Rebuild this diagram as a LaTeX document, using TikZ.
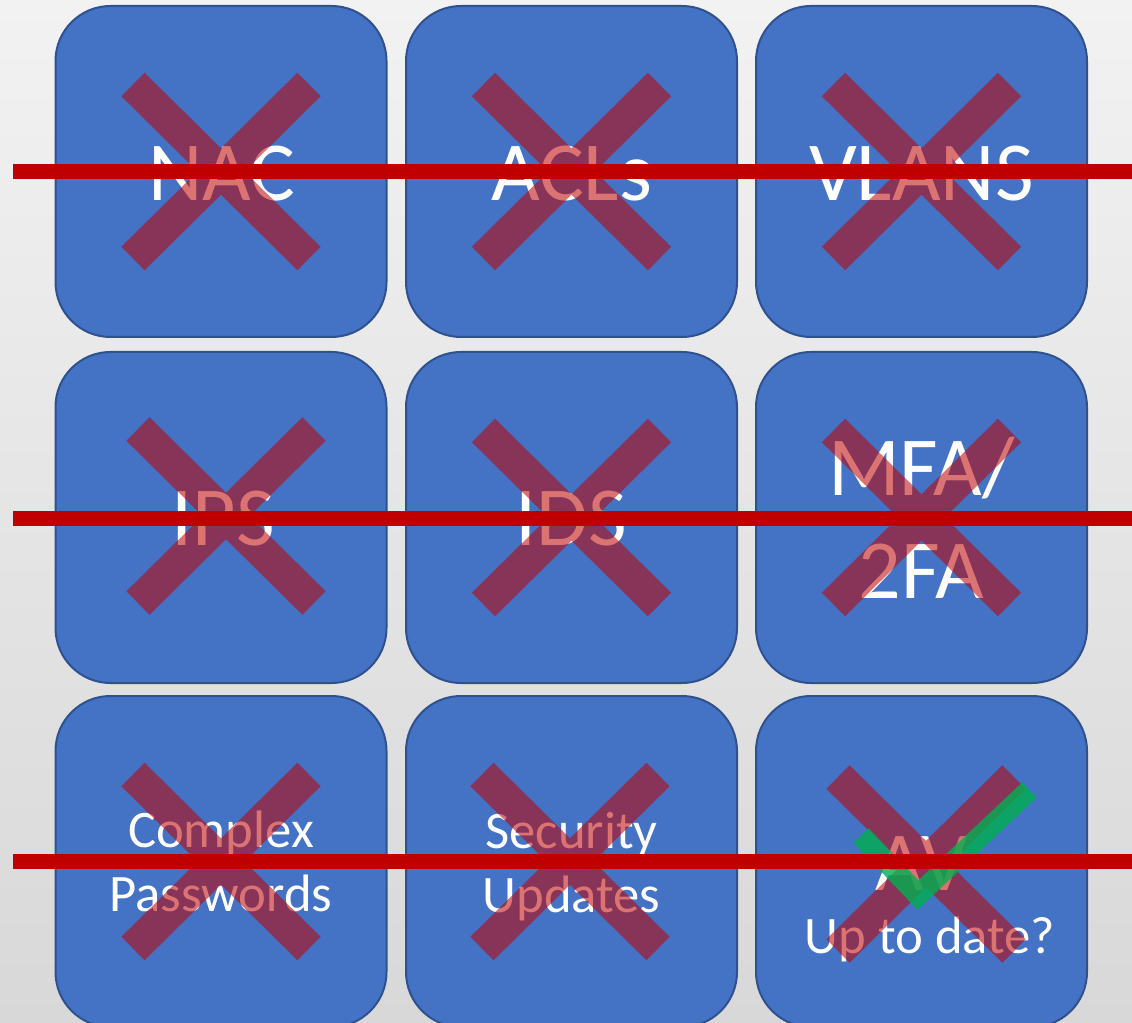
\documentclass[tikz,border=0pt]{standalone}
\usepackage{fontspec}
\setmainfont{Carlito}
\usetikzlibrary{calc}
\definecolor{boxblue}{HTML}{4472C4}
\definecolor{boxline}{HTML}{2F528F}
\definecolor{xred}{HTML}{C00000}
\definecolor{chk}{HTML}{00B050}
\definecolor{bgtop}{HTML}{F2F2F2}
\definecolor{bgbot}{HTML}{D8D8D8}
\begin{document}
\begin{tikzpicture}[x=0.75pt,y=-0.75pt,
  box/.style={draw=boxline, line width=1.5pt, fill=boxblue, rounded corners=41.25pt,
    minimum width=248.25pt, minimum height=248.25pt, inner sep=0pt},
  bigtxt/.style={text=white, font=\fontsize{63}{63}\selectfont, anchor=base, inner sep=0pt},
  smalltxt/.style={text=white, font=\fontsize{39.5}{39.5}\selectfont, anchor=base, inner sep=0pt},
  xmark/.style={draw=xred, line width=24.75pt, line cap=butt},
  strike/.style={draw=xred, line width=11.25pt},
  tick/.style={draw=chk, draw opacity=0.8, line width=15.75pt, line join=miter, line cap=butt}]
\useasboundingbox (0,0) rectangle (1132,1023);
\clip (0,0) rectangle (1132,1023);
\shade[top color=bgtop, bottom color=bgbot] (0,0) rectangle (1132,1023);
% boxes
\node[box] (b1) at (221,171.5) {};
\node[box] (b2) at (571.5,171.5) {};
\node[box] (b3) at (921.5,171.5) {};
\node[box] (b4) at (221,517.5) {};
\node[box] (b5) at (571.5,517.5) {};
\node[box] (b6) at (921.5,517.5) {};
\node[box] (b7) at (221,861.5) {};
\node[box] (b8) at (571.5,861.5) {};
\node[box] (b9) at (921.5,861.5) {};
% texts
\node[bigtxt] (t1) at (222,201) {NAC};
\node[bigtxt] (t2) at (571.5,201) {ACLs};
\node[bigtxt] (t3) at (921.5,201) {VLANS};
\node[bigtxt] (t4) at (223,546) {IPS};
\node[bigtxt] (t5) at (571.5,546) {IDS};
\node[bigtxt] (t6a) at (921.5,495) {MFA/};
\node[bigtxt] (t6b) at (921.5,598) {2FA};
\node[smalltxt] (t7a) at (221,847) {Complex};
\node[smalltxt] (t7b) at (221,911) {Passwords};
\node[smalltxt] (t8a) at (571.5,848) {Security};
\node[smalltxt] (t8b) at (571.5,912) {Updates};
\node[bigtxt] (t9a) at (921.5,890) {AV};
\node[smalltxt] (t9b) at (930,953) {Up to date?};
% crosses
\foreach \b/\dx/\dy in {b1/0/0, b2/0/0, b3/0/0, b4/5/-1.5, b5/0/0, b6/0/0, b7/0/0, b8/-1.5/0, b9/4.5/2.5}{
  \begin{scope}[transparency group, opacity=0.55]
  \draw[xmark] ($(\b)+(\dx,\dy)+(-88,-87)$) -- ($(\b)+(\dx,\dy)+(88,87)$);
  \draw[xmark] ($(\b)+(\dx,\dy)+(88,-87)$) -- ($(\b)+(\dx,\dy)+(-88,87)$);
  \end{scope}
}
% check mark
\draw[tick] ($(b9)+(-60.5,-26)$) -- ($(b9)+(-3.5,33.5)$) -- ($(b9)+(108,-71.5)$);
% strike lines
\coordinate (s1a) at (13,171.5); \coordinate (s1b) at (1140,171.5);
\coordinate (s2a) at (13,518);   \coordinate (s2b) at (1140,518);
\coordinate (s3a) at (13,861.5); \coordinate (s3b) at (1140,861.5);
\draw[strike] (s1a) -- (s1b);
\draw[strike] (s2a) -- (s2b);
\draw[strike] (s3a) -- (s3b);
\end{tikzpicture}
\end{document}
